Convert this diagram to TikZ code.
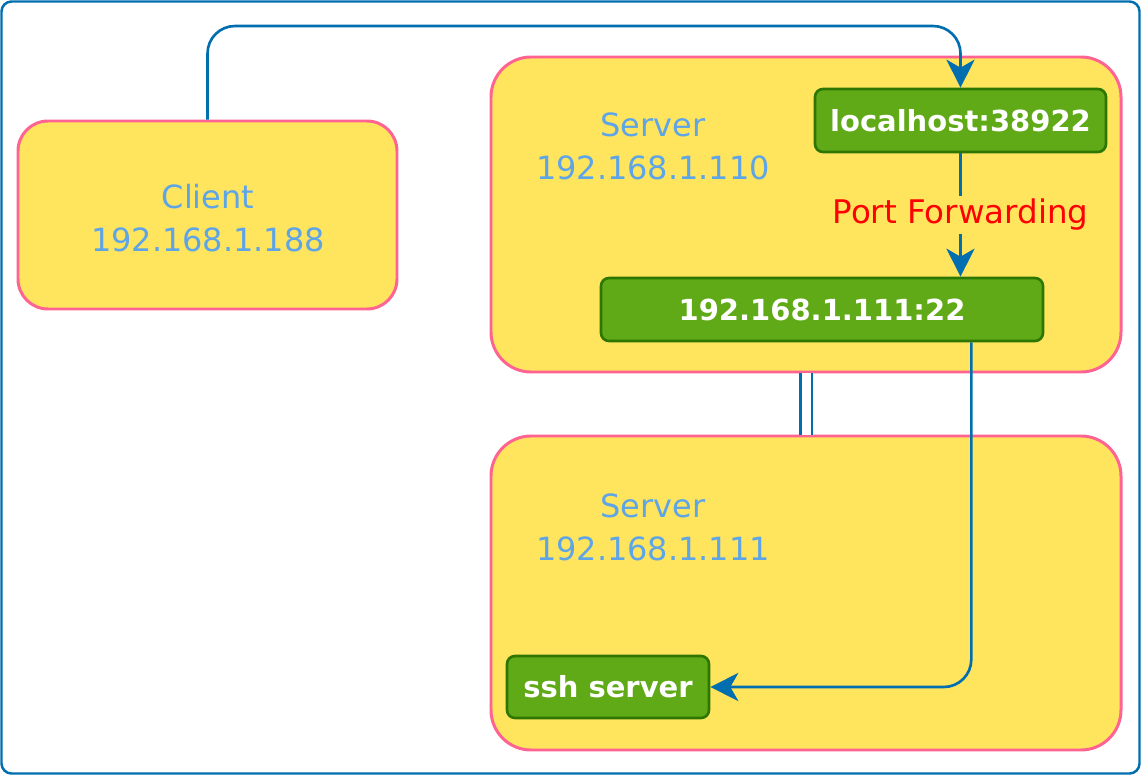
\documentclass[tikz,border=0pt]{standalone}
\usepackage{fontspec}
\setmainfont{DejaVu Sans}
\usepackage{tikz}
\usetikzlibrary{arrows.meta}

\definecolor{boxyellow}{HTML}{FFE45E}
\definecolor{boxpink}{HTML}{FF6392}
\definecolor{linkblue}{HTML}{006EAF}
\definecolor{portgreen}{HTML}{60A917}
\definecolor{portdark}{HTML}{2D7600}
\definecolor{labelblue}{HTML}{5EA5E8}

\begin{document}
\begin{tikzpicture}[
	host/.style={draw=boxpink,fill=boxyellow,line width=1.7pt,rounded corners=0.6cm,inner sep=0pt},
	port/.style={draw=portdark,fill=portgreen,line width=1.5pt,rounded corners=0.16cm,text=white,inner sep=0pt,font=\bfseries\fontsize{16.5}{20}\selectfont},
	hostlabel/.style={text=labelblue,align=center,font=\fontsize{18.2}{24.5}\selectfont},
	link/.style={draw=linkblue,line width=1.5pt,-{Stealth[length=0.56cm,width=0.56cm,inset=0.16cm]}}
	]
\useasboundingbox (0,0) rectangle (22.82,-15.5);
\draw[linkblue,line width=1.4pt,rounded corners=0.2cm] (0.03,-0.03) rectangle (22.79,-15.47);

% hosts
\node[host,minimum width=7.58cm,minimum height=3.76cm] (client) at (4.15,-4.3) {};
\node[hostlabel] (clientlabel) at (4.16,-4.37) {Client\\192.168.1.188};
\node[host,minimum width=12.6cm,minimum height=6.3cm,rounded corners=0.8cm] (srvA) at (16.12,-4.29) {};
\node[hostlabel] (srvAlabel) at (13.06,-2.92) {Server\\192.168.1.110};
\node[host,minimum width=12.6cm,minimum height=6.28cm,rounded corners=0.8cm] (srvB) at (16.12,-11.86) {};
\node[hostlabel] (srvBlabel) at (13.06,-10.54) {Server\\192.168.1.111};

% ports
\node[port,minimum width=5.82cm,minimum height=1.26cm] (local) at (19.21,-2.41) {localhost:38922};
\node[port,minimum width=8.84cm,minimum height=1.26cm] (fwd) at (16.44,-6.19) {192.168.1.111:22};
\node[port,minimum width=4.04cm,minimum height=1.24cm] (ssh) at (12.16,-13.74) {ssh server};

% links
\coordinate (top) at (10,-0.52);
\draw[link,rounded corners=0.55cm] (client.north) |- (top) -| (local.north);
\draw[link] (local.south) -- node[fill=boxyellow,text=red,inner sep=2pt,font=\fontsize{18.5}{20}\selectfont] (fwdlabel) {Port Forwarding} (local.south |- fwd.north);
\coordinate (drop) at ([xshift=-1.46cm]fwd.south east);
\draw[link,rounded corners=0.55cm] (drop) |- (ssh.east);
\draw[linkblue,line width=1.4pt,double=white,double distance=0.18cm] (srvA.south) -- (srvB.north);

\end{tikzpicture}
\end{document}
